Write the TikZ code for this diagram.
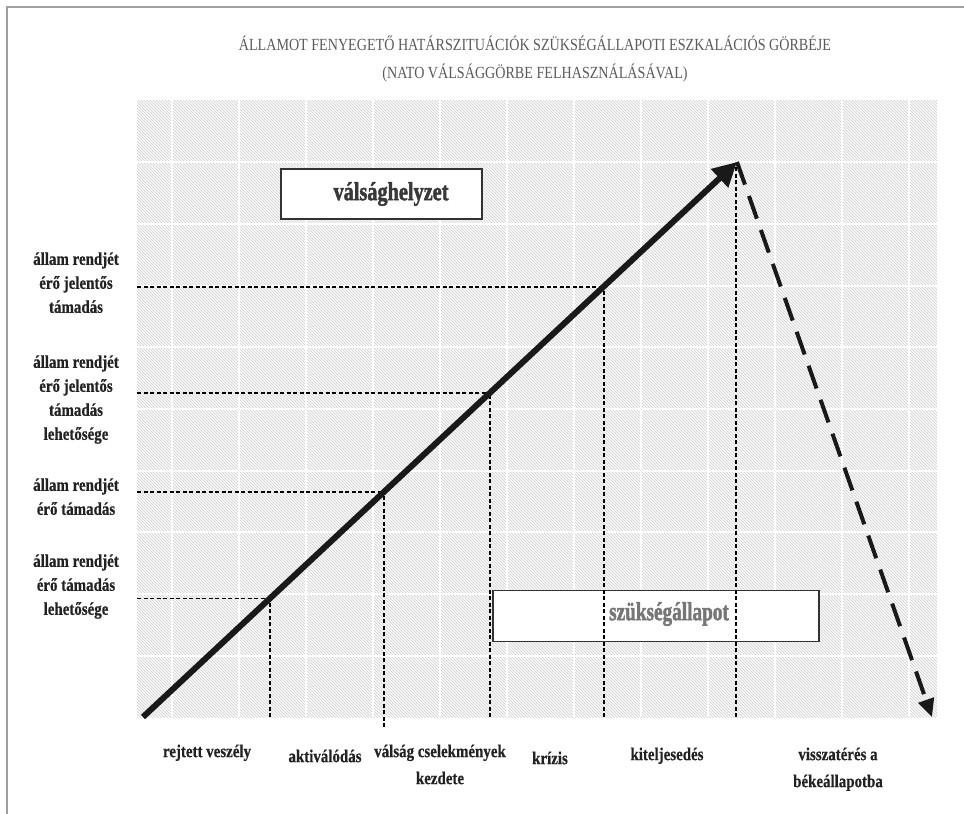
\documentclass[tikz,border=0pt]{standalone}
\usepackage{graphicx}
\usepackage{fontspec}
\setmainfont{Liberation Serif}
\newfontfamily\heavyserif[FakeBold=2]{Liberation Serif Bold}
\newfontfamily\labelserif[FakeBold=0.6]{Liberation Serif Bold}
\usetikzlibrary{patterns,arrows.meta}
\definecolor{titlegray}{HTML}{5A5A5A}
\definecolor{boxgray}{HTML}{767676}
\definecolor{darktext}{HTML}{222222}
\newcommand{\hsqueeze}[2]{\scalebox{#1}[1]{\begin{tabular}{@{}c@{}}#2\end{tabular}}}
\begin{document}
\begin{tikzpicture}[x=1pt,y=-1pt,
  sidelabel/.style={text=darktext, font=\labelserif\fontsize{18}{24}\selectfont, inner sep=0pt},
  bottomlabel/.style={text=darktext, font=\labelserif\fontsize{18}{27}\selectfont, inner sep=0pt},
  guide/.style={black, line width=1.3pt, dash pattern=on 4pt off 2.5pt},
  gridline/.style={white, line width=1.2pt},
  labelbox/.style={draw=black!80, fill=white, line width=1.2pt, minimum height=50pt, inner sep=0pt}
]
\useasboundingbox (0,0) rectangle (964,814);
\fill[white] (0,0) rectangle (964,814);
\draw[gray!75, line width=1.6pt] (7,814) -- (7,7) -- (964,7);

% plot area
\fill[gray!4] (137,100) rectangle (937,717);
\fill[pattern=north west lines, pattern color=gray!38] (137,100) rectangle (937,717);
\foreach \y in {162,224,286,347,409,471,532,594,656}
  \draw[gridline] (137,\y) -- (937,\y);
\foreach \x in {172,239,306,373,440,507,574,641,708,775,842,909}
  \draw[gridline] (\x,100) -- (\x,717);

% title
\node[text=titlegray, font=\fontsize{17}{28}\selectfont, inner sep=0pt] (title) at (535,59)
  {\hsqueeze{0.83}{ÁLLAMOT FENYEGETŐ HATÁRSZITUÁCIÓK SZÜKSÉGÁLLAPOTI ESZKALÁCIÓS GÖRBÉJE\\(NATO VÁLSÁGGÖRBE FELHASZNÁLÁSÁVAL)}};

% key points
\coordinate (start) at (143,717);
\coordinate (peak) at (737,162);
\coordinate (finish) at (932,717);
\coordinate (p1) at (270,598.5);
\coordinate (p2) at (384,492);
\coordinate (p3) at (490,393);
\coordinate (p4) at (604,287);
\coordinate (p5) at (736,166);
\coordinate (b1) at (270,717);
\coordinate (b2) at (384,727);
\coordinate (b3) at (490,717);
\coordinate (b4) at (604,717);
\coordinate (b5) at (736,717);
\coordinate (l1) at (137,598.5);
\coordinate (l2) at (137,492);
\coordinate (l3) at (137,393);
\coordinate (l4) at (137,287);

% boxes
\node[labelbox, minimum width=201pt] (crisisbox) at (381.5,194) {};
\node[text=darktext!90, font=\heavyserif\fontsize{26}{26}\selectfont, inner sep=0pt] (crisistext) at (391,194) {\scalebox{0.78}[1]{válsághelyzet}};
\node[labelbox, minimum width=326pt, minimum height=51pt] (emergbox) at (656,616) {};

% guide lines
\draw[guide] (b1) -- (p1);
\draw[guide] (b2) -- (p2);
\draw[guide] (b3) -- (p3);
\draw[guide] (b4) -- (p4);
\draw[guide] (b5) -- (p5);
\draw[guide] (l1) -- (p1);
\draw[guide] (l2) -- (p2);
\draw[guide] (l3) -- (p3);
\draw[guide] (l4) -- (p4);

\node[text=boxgray, font=\heavyserif\fontsize{26}{26}\selectfont, inner sep=0pt] (emergtext) at (669,614) {\scalebox{0.74}[1]{szükségállapot}};

% main arrows
\draw[black!90, line width=6pt, -{Triangle[length=24pt,width=24pt]}] (start) -- (peak);
\draw[black!90, line width=4pt, dash pattern=on 24pt off 12pt, -{Triangle[length=18pt,width=16pt]}] (peak) -- (finish);

% side labels
\node[sidelabel] (s1) at (76,284) {\hsqueeze{0.83}{állam rendjét\\érő jelentős\\támadás}};
\node[sidelabel] (s2) at (76,399) {\hsqueeze{0.83}{állam rendjét\\érő jelentős\\támadás\\lehetősége}};
\node[sidelabel] (s3) at (76,498) {\hsqueeze{0.83}{állam rendjét\\érő támadás}};
\node[sidelabel] (s4) at (76,586) {\hsqueeze{0.83}{állam rendjét\\érő támadás\\lehetősége}};

% bottom labels
\node[bottomlabel, anchor=north] (t1) at (207,738) {\hsqueeze{0.83}{rejtett veszély}};
\node[bottomlabel, anchor=north] (t2) at (325,743) {\hsqueeze{0.83}{aktiválódás}};
\node[bottomlabel, anchor=north] (t3) at (440,738) {\hsqueeze{0.83}{válság cselekmények\\kezdete}};
\node[bottomlabel, anchor=north] (t4) at (550,745) {\hsqueeze{0.83}{krízis}};
\node[bottomlabel, anchor=north] (t5) at (667,741) {\hsqueeze{0.83}{kiteljesedés}};
\node[bottomlabel, anchor=north] (t6) at (838,741) {\hsqueeze{0.83}{visszatérés a\\békeállapotba}};
\end{tikzpicture}
\end{document}
